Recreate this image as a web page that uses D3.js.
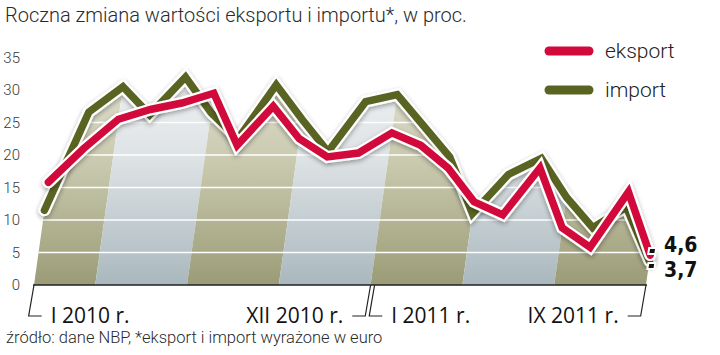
<!DOCTYPE html>
<html>
<head>
<meta charset="utf-8">
<script src="https://cdn.jsdelivr.net/npm/d3@7"></script>
<style>
  body { margin: 0; background: #fff; }
  svg { display: block; }
</style>
</head>
<body>
<div class="chart"></div>
<script>
// months Jan 2010 .. Sep 2011
var months = ["I 2010","II 2010","III 2010","IV 2010","V 2010","VI 2010","VII 2010","VIII 2010","IX 2010","X 2010","XI 2010","XII 2010",
              "I 2011","II 2011","III 2011","IV 2011","V 2011","VI 2011","VII 2011","VIII 2011","IX 2011"];
var eksport = [15.8, 21, 25.5, 27, 28, 29.5, 21.5, 27.5, 22.5, 19.7, 20.3, 23.4, 21.5, 18, 12.8, 10.8, 18, 8.8, 5.8, 14.3, 4.6];
var importVals = [11.5, 26.6, 30.5, 26.2, 32, 26.5, 22.5, 30.8, 25.5, 20.5, 28.2, 29.3, 24.5, 19.7, 11, 17, 19.5, 13.5, 8.8, 12, 3.7];
var yTicks = [0, 5, 10, 15, 20, 25, 30, 35];
// quarter bands (month index from..to)
var bandEdges = [0, 2, 5, 8, 11, 14, 17, 20];
var xTickLabels = ["I 2010 r.", "XII 2010 r.", "I 2011 r.", "IX 2011 r."];
var xTickIdx = [0, 11, 11, 20];
var seriesNames = ["eksport", "import"];
var endLabels = ["4,6", "3,7"];

var W = 720, H = 355;
var red = "#d20a3c", olive = "#5a6422";

var svg = d3.select(".chart").append("svg")
    .attr("width", W).attr("height", H);

var defs = svg.append("defs");

var x = d3.scaleLinear().domain([0, months.length - 1]).range([34, 646]);
var y = d3.scaleLinear().domain([0, 35]).range([285, 57.5]);
var k = 0.14; // slant of the pseudo 3d bands

function sx(i, v) { return x(i) + k * (y(0) - y(v)); }

// gradients
function grad(id, stops) {
    var g = defs.append("linearGradient").attr("id", id)
        .attr("gradientUnits", "userSpaceOnUse")
        .attr("x1", 0).attr("x2", 0).attr("y1", y(35)).attr("y2", y(0));
    stops.forEach(function(s){
        g.append("stop").attr("offset", s[0]).attr("stop-color", s[1]);
    });
}
grad("gOlive", [[0, "#e4e4d6"], [0.45, "#cacab0"], [1, "#9b9c76"]]);
grad("gBlue", [[0, "#f3f4f5"], [0.45, "#dde2e4"], [1, "#a9b8be"]]);

var sh = defs.append("filter").attr("id", "shadow")
    .attr("x", "-10%").attr("y", "-10%").attr("width", "120%").attr("height", "130%");
sh.append("feGaussianBlur").attr("in", "SourceAlpha").attr("stdDeviation", 2.5).attr("result", "b");
sh.append("feOffset").attr("in", "b").attr("dx", 0).attr("dy", 2).attr("result", "o");
sh.append("feComponentTransfer").attr("in", "o").attr("result", "o2")
    .append("feFuncA").attr("type", "linear").attr("slope", 0.35);
var mrg = sh.append("feMerge");
mrg.append("feMergeNode").attr("in", "o2");
mrg.append("feMergeNode").attr("in", "SourceGraphic");

// clip = union of areas under both lines
var area = d3.area()
    .x0(function(d, i){ return x(i); })
    .x1(function(d, i){ return sx(i, d); })
    .y0(y(0))
    .y1(function(d){ return y(d); });

var clip = defs.append("clipPath").attr("id", "areaClip");
clip.append("path").attr("d", area(eksport));
clip.append("path").attr("d", area(importVals));

var bg = svg.append("g").attr("clip-path", "url(#areaClip)");

for (var b = 0; b < bandEdges.length - 1; b++) {
    var a0 = bandEdges[b], a1 = bandEdges[b + 1];
    var topY = y(40);
    var dx = k * (y(0) - topY);
    var x0 = b == 0 ? x(a0) - 20 : x(a0);
    var x1 = b == bandEdges.length - 2 ? x(a1) + 20 : x(a1);
    bg.append("path")
        .attr("d", "M" + x0 + "," + y(0) + "L" + x1 + "," + y(0) +
                   "L" + (x1 + dx) + "," + topY + "L" + (x0 + dx) + "," + topY + "Z")
        .attr("fill", b % 2 == 0 ? "url(#gOlive)" : "url(#gBlue)");
}

// white gridlines
bg.selectAll(".grid")
    .data(yTicks.slice(1))
    .enter()
    .append("line")
    .attr("class", "grid")
    .attr("x1", 0).attr("x2", W)
    .attr("y1", function(d){ return y(d); })
    .attr("y2", function(d){ return y(d); })
    .attr("stroke", "#fff")
    .attr("stroke-width", 1.5);

// baseline
svg.append("line")
    .attr("x1", x(0) - 1).attr("x2", x(months.length - 1) + 1)
    .attr("y1", y(0)).attr("y2", y(0))
    .attr("stroke", "#1c2226").attr("stroke-width", 1.6);

// y tick labels
svg.selectAll(".ytick")
    .data(yTicks)
    .enter()
    .append("text")
    .attr("class", "ytick")
    .attr("x", 20)
    .attr("y", function(d){ return y(d) + 5; })
    .attr("text-anchor", "end")
    .style("font-family", "Roboto")
    .style("font-weight", 300)
    .style("font-size", "15px")
    .style("fill", "#3a3a3a")
    .text(function(d){ return d; });

// lines
var line = d3.line()
    .x(function(d, i){ return sx(i, d); })
    .y(function(d){ return y(d); });

function drawSeries(vals, col) {
    svg.append("path")
        .datum(vals)
        .attr("d", line)
        .attr("fill", "none")
        .attr("stroke", "#fff")
        .attr("stroke-width", 12)
        .attr("stroke-linejoin", "miter")
        .attr("stroke-linecap", "round")
        .attr("filter", "url(#shadow)");
    svg.append("path")
        .datum(vals)
        .attr("d", line)
        .attr("fill", "none")
        .attr("stroke", col)
        .attr("stroke-width", 7.5)
        .attr("stroke-linejoin", "miter")
        .attr("stroke-linecap", "round");
}
drawSeries(importVals, olive);
drawSeries(eksport, red);

// end markers + labels
var last = months.length - 1;
var ends = [eksport[last], importVals[last]];
var endOff = [-4, 5];
ends.forEach(function(v, j){
    var cx = sx(last, v) + 1, cy = y(v) + endOff[j];
    svg.append("path")
        .attr("d", "M" + (cx - 3) + "," + (cy + 3) + "L" + (cx + 4) + "," + (cy + 3) +
                   "L" + (cx + 5) + "," + (cy - 3) + "L" + (cx - 2) + "," + (cy - 3) + "Z")
        .attr("fill", "#111")
        .attr("stroke", "#fff")
        .attr("stroke-width", 2);
    svg.append("text")
        .attr("x", 664)
        .attr("y", j == 0 ? 252 : 277)
        .style("font-family", "'DejaVu Sans Condensed', 'Liberation Sans Narrow', sans-serif")
        .style("font-stretch", "condensed")
        .style("font-weight", 700)
        .style("font-size", "21px")
        .style("fill", "#111")
        .text(endLabels[j]);
});

// x labels with leader lines
var ly = 316;
xTickLabels.forEach(function(t, j){
    var i = xTickIdx[j];
    var off = (j == 2) ? 4 : 0;
    var topX = x(i) + off, botX = topX - k * (ly - y(0)) - 1;
    var dir = (j == 0 || j == 2) ? 1 : -1;
    svg.append("path")
        .attr("d", "M" + topX + "," + y(0) + "L" + botX + "," + ly + "L" + (botX + dir * 13) + "," + ly)
        .attr("fill", "none")
        .attr("stroke", "#222")
        .attr("stroke-width", 1.2);
    svg.append("text")
        .attr("x", botX + dir * 22)
        .attr("y", 323)
        .attr("text-anchor", dir == 1 ? "start" : "end")
        .style("font-family", "'Open Sans'")
        .style("font-size", "21px")
        .style("fill", "#111")
        .text(t);
});

// legend
var legCols = [red, olive];
seriesNames.forEach(function(n, j){
    var ty = 51 + j * 39;
    svg.append("line")
        .attr("x1", 549).attr("x2", 589)
        .attr("y1", ty).attr("y2", ty)
        .attr("stroke", legCols[j])
        .attr("stroke-width", 9)
        .attr("stroke-linecap", "round");
    svg.append("text")
        .attr("x", 605).attr("y", ty + 7)
        .style("font-family", "Roboto")
        .style("font-weight", 300)
        .style("font-size", "21px")
        .style("fill", "#222")
        .text(n);
});

// title and source
svg.append("text")
    .attr("x", 5).attr("y", 22)
    .style("font-family", "Roboto")
    .style("font-weight", 300)
    .style("font-size", "20px")
    .style("fill", "#2a2a2a")
    .text("Roczna zmiana wartości eksportu i importu*, w proc.");

svg.append("text")
    .attr("x", 6).attr("y", 343)
    .style("font-family", "Roboto")
    .style("font-weight", 300)
    .style("font-size", "16.5px")
    .style("fill", "#2a2a2a")
    .text("źródło: dane NBP, *eksport i import wyrażone w euro");
</script>
</body>
</html>
